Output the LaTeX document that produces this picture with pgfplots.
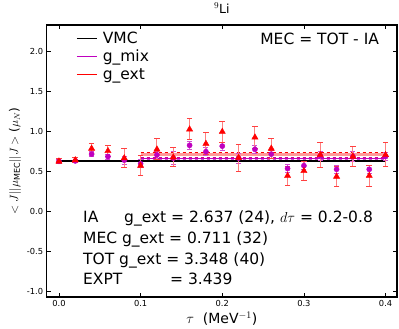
\documentclass[border=0pt]{standalone}
\usepackage{fontspec}
\setmainfont{DejaVu Sans}
\usepackage{pgfplots}
\pgfplotsset{compat=1.18}
\usepackage{pgfplotstable}
\definecolor{mcol}{rgb}{0.75,0,0.75}

\pgfplotstableread{
tau mix mixerr ext exterr
0.00 0.630 0.020 0.630 0.030
0.02 0.635 0.020 0.645 0.030
0.04 0.720 0.030 0.790 0.060
0.06 0.690 0.030 0.760 0.065
0.08 0.645 0.050 0.670 0.120
0.10 0.600 0.050 0.575 0.125
0.12 0.710 0.050 0.780 0.130
0.14 0.670 0.080 0.680 0.120
0.16 0.830 0.050 1.030 0.130
0.18 0.750 0.050 0.850 0.140
0.20 0.820 0.050 1.000 0.130
0.22 0.670 0.060 0.675 0.170
0.24 0.780 0.050 0.930 0.140
0.26 0.720 0.050 0.790 0.130
0.28 0.540 0.050 0.450 0.120
0.30 0.575 0.050 0.510 0.120
0.32 0.700 0.060 0.710 0.160
0.34 0.530 0.050 0.440 0.130
0.36 0.690 0.060 0.690 0.130
0.38 0.530 0.050 0.450 0.130
0.40 0.690 0.050 0.710 0.150
}\data

\begin{document}
\begin{tikzpicture}
\begin{axis}[
  scale only axis, width=350.3pt, height=272pt,
  xmin=-0.015, xmax=0.414, ymin=-1.066, ymax=2.334,
  xtick={0,0.1,0.2,0.3,0.4},
  ytick={-1,-0.5,0,0.5,1,1.5,2},
  /pgf/number format/assume math mode=true,
  xticklabel style={/pgf/number format/fixed,/pgf/number format/precision=1,/pgf/number format/fixed zerofill},
  yticklabel style={/pgf/number format/fixed,/pgf/number format/precision=1,/pgf/number format/fixed zerofill},
  tick label style={font=\fontsize{8.3}{9}\selectfont},
  major tick length=4pt,
  tick style={black, line width=0.6pt},
  axis line style={line width=1.2pt},
  title={$^{9}$Li},
  title style={at={(axis description cs:0.5,1)}, anchor=base, yshift=6pt, font=\fontsize{12.5}{14}\selectfont},
  xlabel={$\tau$\ \ (MeV$^{-1}$)},
  xlabel style={at={(axis description cs:0.5,0)}, anchor=base, yshift=-27pt, font=\fontsize{14}{16}\selectfont},
  ylabel={$<J||\mu_{\rm MEC}||J>$\ ($\mu_N$)},
  ylabel style={at={(axis description cs:-0.0905,0.5)}, anchor=center, font=\fontsize{12}{14}\selectfont},
  legend style={at={(axis description cs:0.075,0.99)}, anchor=north west, draw=none, fill=none,
    font=\fontsize{15.5}{18}\selectfont, row sep=1pt, nodes={inner xsep=5pt}},
  legend cell align=left,
  legend image code/.code={\draw[#1] (-4pt,0pt) -- (16pt,0pt);},
]
% VMC line
\addplot[black, line width=1.3pt, forget plot] coordinates {(0,0.634) (0.4,0.634)};
% g_ext fit band
\addplot[red, opacity=0.4, line width=3pt, forget plot] coordinates {(0.1,0.711) (0.4,0.711)};
\addplot[red, dashed, line width=0.8pt, forget plot] coordinates {(0.1,0.743) (0.4,0.743)};
\addplot[red, dashed, line width=0.8pt, forget plot] coordinates {(0.1,0.679) (0.4,0.679)};
% g_mix fit
\addplot[mcol, line width=1pt, forget plot] coordinates {(0.1,0.668) (0.4,0.668)};
\addplot[mcol, dashed, opacity=0.7, line width=0.8pt, forget plot] coordinates {(0.1,0.676) (0.4,0.676)};
\addplot[mcol, dashed, opacity=0.7, line width=0.8pt, forget plot] coordinates {(0.1,0.660) (0.4,0.660)};
% g_mix points
\addplot[only marks, mark=*, mark size=2.6pt, color=mcol, forget plot,
  error bars/.cd, y dir=both, y explicit,
  error bar style={mcol!60, line width=0.8pt},
  error mark options={rotate=90, mark size=2.5pt, mcol!70, line width=0.8pt}]
  table[x=tau, y=mix, y error=mixerr] {\data};
% g_ext points
\addplot[only marks, mark=triangle*, mark size=3.6pt, color=red, forget plot,
  error bars/.cd, y dir=both, y explicit,
  error bar style={red!50, line width=0.9pt},
  error mark options={rotate=90, mark size=2.8pt, red!75, line width=0.9pt}]
  table[x=tau, y=ext, y error=exterr] {\data};

\addlegendimage{black, line width=1.6pt}
\addlegendentry{VMC}
\addlegendimage{mcol, line width=1.2pt}
\addlegendentry{g\_mix}
\addlegendimage{red, line width=1.2pt}
\addlegendentry{g\_ext}

\node[anchor=base east, inner sep=0pt, font=\fontsize{15.5}{18}\selectfont] at (rel axis cs:0.949,0.930) {MEC = TOT - IA};
\node[anchor=base west, inner sep=0pt, font=\fontsize{15.5}{18}\selectfont] at (rel axis cs:0.1036,0.273) {\makebox[41pt][l]{IA}g\_ext = 2.637 (24), $d\tau$ = 0.2-0.8};
\node[anchor=base west, inner sep=0pt, font=\fontsize{15.5}{18}\selectfont] at (rel axis cs:0.1036,0.197) {MEC g\_ext = 0.711 (32)};
\node[anchor=base west, inner sep=0pt, font=\fontsize{15.5}{18}\selectfont] at (rel axis cs:0.1036,0.121) {TOT g\_ext = 3.348 (40)};
\node[anchor=base west, inner sep=0pt, font=\fontsize{15.5}{18}\selectfont] at (rel axis cs:0.1036,0.047) {\makebox[87pt][l]{EXPT}= 3.439};

\coordinate (bl) at (rel axis cs:0,0);
\coordinate (tr) at (rel axis cs:1,1);
\end{axis}
\pgfresetboundingbox
\path ([shift={(-46.7pt,-32pt)}]bl) rectangle ([shift={(2pt,25pt)}]tr);
\end{tikzpicture}
\end{document}
